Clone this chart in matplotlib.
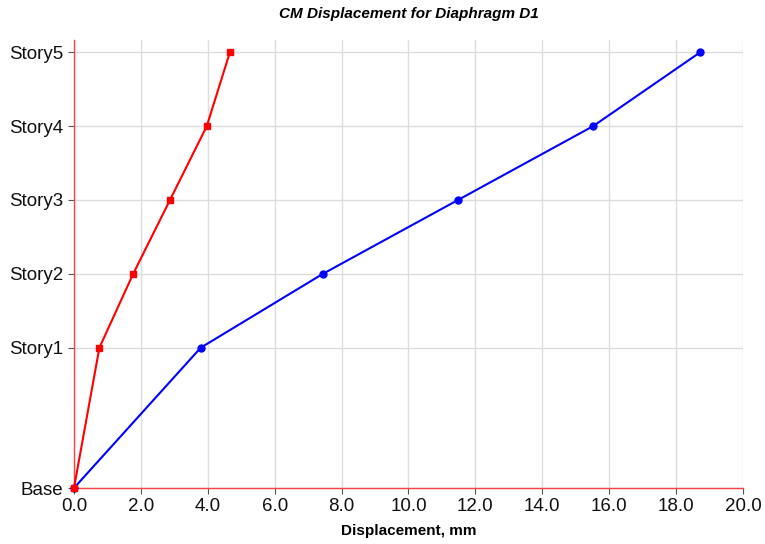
import numpy as np
import matplotlib.pyplot as plt

# ============================================================
# DATA
# ============================================================

STORIES = ["Base", "Story1", "Story2", "Story3", "Story4", "Story5"]
ELEVATIONS = [0.0, 5.7, 8.7, 11.7, 14.7, 17.7]

DISP_BLUE = [0.0, 3.79, 7.44, 11.48, 15.52, 18.72]
DISP_RED = [0.0, 0.76, 1.77, 2.87, 3.97, 4.66]

X_TICKS = np.arange(0, 20.1, 2.0)

# ============================================================
# PLOT
# ============================================================

plt.rcParams["font.family"] = ["Liberation Sans", "DejaVu Sans"]

fig = plt.figure(figsize=(7.65, 5.44), dpi=100)
ax = fig.add_axes([0.0967, 0.1029, 0.8745, 0.8236])

ax.plot(DISP_BLUE, ELEVATIONS, color="#0000ff", linewidth=1.5,
        marker="o", markersize=5, zorder=3, clip_on=False)
ax.plot(DISP_RED, ELEVATIONS, color="#ff0000", linewidth=1.5,
        marker="s", markersize=5, zorder=4, clip_on=False)

ax.set_xlim(0, 20)
ax.set_ylim(0, 18.2)

ax.set_xticks(X_TICKS)
ax.set_xticklabels([f"{v:.1f}" for v in X_TICKS])
ax.set_yticks(ELEVATIONS)
ax.set_yticklabels(STORIES)

ax.tick_params(axis="both", labelsize=13.5, length=4, color="#555555",
               labelcolor="#111111")

ax.grid(True, color="#dcdcdc", linewidth=1.0)
ax.set_axisbelow(True)

for side in ["top", "right"]:
    ax.spines[side].set_visible(False)
for side in ["left", "bottom"]:
    ax.spines[side].set_color("#ff4040")
    ax.spines[side].set_linewidth(1.0)

ax.set_xlabel("Displacement, mm", fontsize=11, fontweight="bold",
              labelpad=6)
ax.set_title("CM Displacement for Diaphragm D1", fontsize=11,
             fontweight="bold", fontstyle="italic", pad=16)

plt.savefig("out.png", dpi=100)
plt.close()
